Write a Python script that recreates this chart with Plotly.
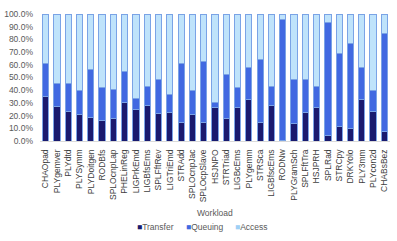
import plotly.graph_objects as go

workloads = ["CHAOpad", "PLYgemver", "PLYdtd", "PLYSymm", "PLYDoitgen", "RODBfs",
             "SPLOcnpLap", "PHELinReg", "LIGPrkEmd", "LIGBfsEms", "SPLFftRev",
             "LIGTriEmd", "STRAdd", "SPLOcnpJac", "SPLOcpSlave", "HSJNPO", "STRTriad",
             "LIGBcEms", "PLYgemm", "STRSca", "LIGBfscEms", "RODNw", "PLYGramSch",
             "SPLFftTra", "HSJPRH", "SPLRad", "STRCpy", "DRKYolo", "PLY3mm",
             "PLYcon2d", "CHABsBez"]

transfer = [35.1, 27.2, 23.0, 21.1, 18.5, 16.1, 17.4, 30.1, 24.5, 27.7, 21.9,
            22.2, 14.2, 21.1, 14.2, 26.4, 17.9, 26.4, 32.5, 14.8, 27.7, 0.5,
            13.5, 22.2, 26.1, 4.0, 11.6, 9.5, 33.0, 23.0, 7.7]
queuing = [26.1, 18.2, 22.1, 18.7, 37.7, 26.4, 23.0, 24.5, 9.3, 15.0, 26.6,
           14.5, 47.0, 18.5, 48.6, 3.7, 34.6, 15.8, 25.3, 49.3, 15.0, 95.5,
           35.0, 26.1, 17.2, 89.1, 57.3, 67.3, 24.8, 16.8, 76.7]
access = [38.8, 54.6, 54.9, 60.2, 43.8, 57.5, 59.6, 45.4, 66.2, 57.3, 51.5,
          63.3, 38.8, 60.4, 37.2, 69.9, 47.5, 57.8, 42.2, 35.9, 57.3, 4.0,
          51.5, 51.7, 56.7, 6.9, 31.1, 23.2, 42.2, 60.2, 15.6]

y_ticks = [i / 10 for i in range(11)]

series = [("Transfer", transfer, "#1a1a6e"),
          ("Queuing", queuing, "#4169e1"),
          ("Access", access, "#bfe3fb")]

fig = go.Figure()
for name, vals, col in series:
    fig.add_trace(go.Bar(
        x=workloads, y=[v / 100 for v in vals], name=name,
        marker=dict(color=col, line=dict(color="#7aa3e6", width=1)),
        showlegend=False,
    ))

grey = "#595959"
font_family = "Liberation Sans, Arial, sans-serif"

# legend drawn as text annotations (compact, like the reference)
legend_x = [0.33, 0.47, 0.605]
for (name, vals, col), lx in zip(series, legend_x):
    sym_col = col if name != "Access" else "#9fd0f5"
    fig.add_annotation(
        x=lx, y=-0.677, xref="paper", yref="paper", xanchor="center", yanchor="middle",
        text=f'<span style="color:{sym_col}">■</span>{name}', showarrow=False,
        font=dict(size=8.5, color=grey, family=font_family),
    )

fig.add_annotation(
    x=0.5, y=-0.567, xref="paper", yref="paper", xanchor="center", yanchor="middle",
    text="Workload", showarrow=False,
    font=dict(size=8.5, color=grey, family=font_family),
)

fig.update_layout(
    width=397, height=241,
    barmode="stack", bargap=0.45,
    margin=dict(l=40, r=7, t=14, b=100, autoexpand=False),
    plot_bgcolor="white", paper_bgcolor="white",
    font=dict(family=font_family, size=8, color=grey),
    showlegend=False,
    xaxis=dict(tickmode="array", tickvals=workloads, ticktext=workloads,
               tickangle=-90, tickfont=dict(size=8.5, color="#404040"),
               ticklabelstandoff=4,
               showline=True, linecolor="#d9d9d9", linewidth=1, ticks="",
               showgrid=False, automargin=False, range=[-0.5, len(workloads) - 0.5]),
    yaxis=dict(range=[0, 1], tickvals=y_ticks, tickformat=".1%",
               tickfont=dict(size=8.5, color=grey), automargin=False,
               ticklabelstandoff=6,
               showgrid=False, zeroline=False, showline=False, ticks=""),
)

fig.write_html("out.html", config={"displayModeBar": False})

# remove default page margins so the 397x241 figure fills the window exactly
with open("out.html", "r", encoding="utf-8") as f:
    html = f.read()
html = html.replace("<head>", "<head><style>html,body{margin:0;padding:0;overflow:hidden;}</style>", 1)
with open("out.html", "w", encoding="utf-8") as f:
    f.write(html)
